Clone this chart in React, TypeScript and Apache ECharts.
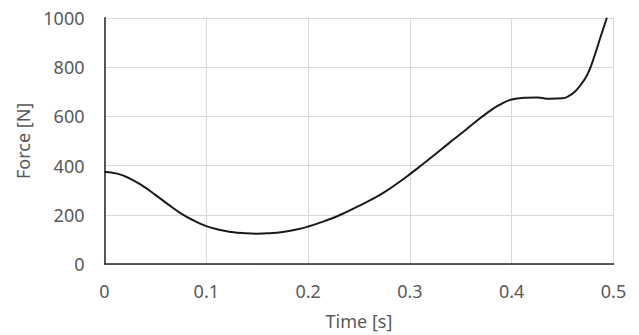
import React, { useEffect, useRef } from "react";
import * as echarts from "echarts";

const timeValues: number[] = [
  0, 0.0125, 0.025, 0.0375, 0.05, 0.0625, 0.075, 0.0875, 0.1, 0.1125, 0.125, 0.1375,
  0.15, 0.1625, 0.175, 0.1875, 0.2, 0.2125, 0.225, 0.2375, 0.25, 0.2625, 0.275, 0.2875,
  0.3, 0.3125, 0.325, 0.3375, 0.35, 0.3625, 0.375, 0.3875, 0.4, 0.4125, 0.425, 0.4375,
  0.45, 0.4563, 0.4625, 0.4688, 0.475, 0.4813, 0.4875, 0.4935,
];
const forceValues: number[] = [
  375, 367, 347, 317, 281, 242, 206, 177, 154, 139, 130, 125,
  123, 125, 130, 139, 152, 169, 188, 211, 236, 262, 292, 327,
  365, 405, 446, 488, 529, 571, 611, 645, 668, 675, 676, 671,
  673, 683, 702, 733, 775, 845, 925, 1000,
];
const xTicks: number[] = [0, 0.1, 0.2, 0.3, 0.4, 0.5];
const yTicks: number[] = [0, 200, 400, 600, 800, 1000];

const FONT = "'Noto Sans', sans-serif";
const LABEL_COLOR = "#595959";

export default function App() {
  const ref = useRef<HTMLDivElement>(null);
  useEffect(() => {
    if (!ref.current) return;
    const chart = echarts.init(ref.current, undefined, { renderer: "svg" });
    chart.setOption({
      animation: false,
      backgroundColor: "#ffffff",
      grid: { left: 104.5, right: 25.5, top: 17.8, bottom: 69.8, containLabel: false },
      xAxis: {
        type: "value",
        min: xTicks[0],
        max: xTicks[xTicks.length - 1],
        interval: 0.1,
        name: "Time [s]",
        nameLocation: "middle",
        nameGap: 48,
        nameTextStyle: { color: LABEL_COLOR, fontSize: 18, fontFamily: FONT },
        axisLine: { show: true, onZero: false, lineStyle: { color: "#262626", width: 1.5 } },
        axisTick: { show: false },
        axisLabel: { color: LABEL_COLOR, fontSize: 18, fontFamily: FONT, margin: 18, formatter: (v: number) => String(v) },
        splitLine: { show: true, lineStyle: { color: "#d9d9d9", width: 1 } },
      },
      yAxis: {
        type: "value",
        min: yTicks[0],
        max: yTicks[yTicks.length - 1],
        interval: 200,
        name: "Force [N]",
        nameLocation: "middle",
        nameGap: 70,
        nameTextStyle: { color: LABEL_COLOR, fontSize: 18, fontFamily: FONT },
        axisLine: { show: true, onZero: false, lineStyle: { color: "#262626", width: 1.5 } },
        axisTick: { show: false },
        axisLabel: { color: LABEL_COLOR, fontSize: 18, fontFamily: FONT, margin: 20, formatter: (v: number) => String(v) },
        splitLine: { show: true, lineStyle: { color: "#d9d9d9", width: 1 } },
      },
      series: [
        {
          type: "line",
          data: timeValues.map((t, i) => [t, forceValues[i]]),
          smooth: 0.5,
          showSymbol: false,
          lineStyle: { color: "#1a1a1a", width: 2 },
          clip: true,
        },
      ],
    });
    return () => chart.dispose();
  }, []);
  return <div ref={ref} style={{ width: 639, height: 335, position: "absolute", left: 0, top: 0 }} />;
}
